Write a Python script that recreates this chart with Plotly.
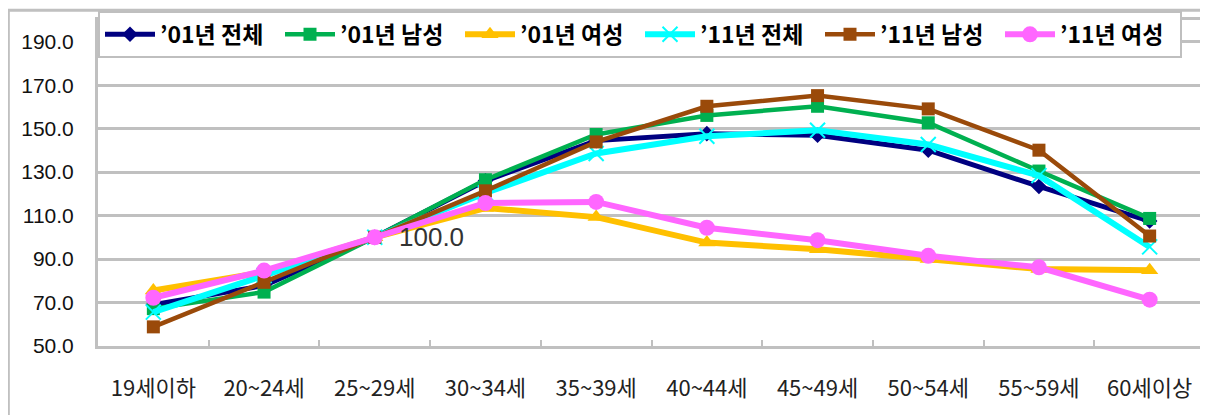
import plotly.graph_objects as go

categories = ["19세이하", "20~24세", "25~29세", "30~34세", "35~39세",
              "40~44세", "45~49세", "50~54세", "55~59세", "60세이상"]

total_01 = [69.0, 77.8, 100.0, 126.0, 144.5, 147.7, 147.0, 140.1, 123.4, 107.5]
male_01 = [67.2, 74.8, 100.0, 126.5, 147.3, 156.1, 160.3, 152.7, 130.5, 108.7]
female_01 = [75.5, 84.0, 100.0, 113.5, 109.3, 97.6, 94.5, 90.0, 85.4, 84.9]
total_11 = [65.6, 82.4, 100.0, 120.4, 138.6, 146.5, 149.3, 142.7, 128.4, 95.6]
male_11 = [58.8, 79.3, 100.0, 121.4, 143.9, 160.3, 165.2, 159.1, 140.1, 100.6]
female_11 = [72.2, 84.7, 100.0, 115.8, 116.3, 104.4, 98.7, 91.5, 86.2, 71.3]

series_names = ["’01년 전체", "’01년 남성", "’01년 여성",
                "’11년 전체", "’11년 남성", "’11년 여성"]
y_ticks = [50, 70, 90, 110, 130, 150, 170, 190]

series = [total_01, male_01, female_01, total_11, male_11, female_11]
styles = [
    dict(color="#000080", width=5, symbol="diamond", size=12),
    dict(color="#00B050", width=4.5, symbol="square", size=13),
    dict(color="#FFC000", width=6, symbol="triangle-up", size=15),
    dict(color="#00FFFF", width=6, symbol="x-thin-open", size=15),
    dict(color="#9A4A0A", width=4.5, symbol="square", size=13),
    dict(color="#FF66FF", width=6, symbol="circle", size=16),
]

fig = go.Figure()
for name, vals, st in zip(series_names, series, styles):
    marker = dict(symbol=st["symbol"], size=st["size"], color=st["color"])
    if st["symbol"].endswith("open"):
        marker["line"] = dict(color=st["color"], width=2)
    fig.add_trace(go.Scatter(
        x=categories, y=vals, name=name, mode="lines+markers",
        line=dict(color=st["color"], width=st["width"]),
        marker=marker,
    ))

fig.add_annotation(
    x=categories[2], y=total_01[2], text="100.0", showarrow=False,
    xanchor="left", yanchor="middle", xshift=22,
    font=dict(family="Liberation Sans, Arial", size=26, color="#333333"),
)

grid = "#c0c0c0"
fig.update_layout(
    width=1200, height=407,
    margin=dict(l=90, r=3, t=9, b=69),
    paper_bgcolor="white", plot_bgcolor="white",
    showlegend=True,
    legend=dict(
        orientation="h", x=0, y=1.028, xanchor="left", yanchor="top",
        bgcolor="white", bordercolor="#bfbfbf", borderwidth=2,
        font=dict(family="Noto Sans CJK KR", size=23, color="black", weight="bold"),
        itemwidth=50, entrywidth=115, entrywidthmode="pixels",
    ),
    xaxis=dict(
        type="category", range=[-0.5, 9.5], automargin=False,
        showgrid=False, showline=True, linecolor=grid, linewidth=3, mirror=True,
        tickson="boundaries", ticks="inside", ticklen=6, tickcolor=grid, tickwidth=2,
        tickfont=dict(family="Noto Sans CJK KR", size=22, color="#222222"),
        ticklabelstandoff=21,
    ),
    yaxis=dict(
        range=[50, 200], tickvals=y_ticks, tickformat=".1f", automargin=False,
        showgrid=True, gridcolor=grid, gridwidth=3,
        showline=True, linecolor=grid, linewidth=3, mirror=True,
        ticks="", zeroline=False,
        tickfont=dict(family="Liberation Sans, Arial", size=21, color="#111111"),
        ticklabelstandoff=17,
    ),
    shapes=[dict(type="rect", xref="paper", yref="paper",
                 x0=-0.081, x1=1.002, y0=-0.3, y1=1.03,
                 line=dict(color=grid, width=3), layer="below")],
)

fig.write_html("out.html")
